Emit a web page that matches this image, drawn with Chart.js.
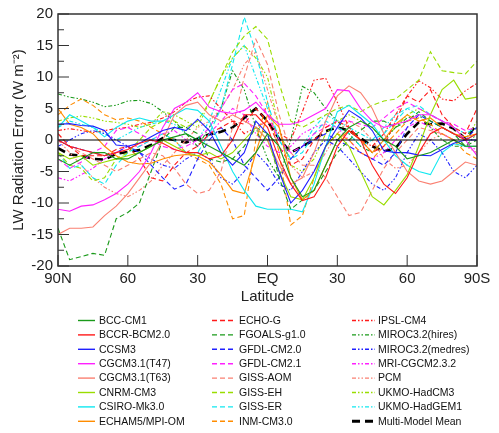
<!DOCTYPE html>
<html>
<head>
<meta charset="utf-8">
<script src="https://cdn.jsdelivr.net/npm/chart.js@4.4.1/dist/chart.umd.min.js"></script>
<style>
  body { margin: 0; background: #fff; }
  canvas { display: block; }
</style>
</head>
<body>
<canvas id="grafico" width="499" height="433"></canvas>
<script>
// latitudes, 90N -> 90S
const lat = [90,85,80,75,70,65,60,55,50,45,40,35,30,25,20,15,10,5,0,-5,-10,-15,-20,-25,-30,-35,-40,-45,-50,-55,-60,-65,-70,-75,-80,-85,-90];

const xTicks = [90,60,30,0,-30,-60,-90];
const xTickLabels = ['90N','60','30','EQ','30','60','90S'];
const yTicks = [-20,-15,-10,-5,0,5,10,15,20];
const yMinorTicks = [-17.5,-12.5,-7.5,-2.5,2.5,7.5,12.5,17.5];

// LW radiation error (W m-2) por modelo
const bccCm1   = [-3,-4,-3,-2,-2,-3,-3,-2,-1,0,0.5,1,0,-1,-2,-3,-4,-2,1,-1,-6,-9,-8,-4,0,2,3,2,0,-1,-3,-2.5,-2,-1,0,-1,-1];
const bccrBcm  = [0,-1,-1.5,-2,-2.5,-2,-1.5,-0.5,0,-0.5,-1.5,-2,-2,-3,-2.5,0,4,4,2,-3,-7,-9.6,-9,-6,-1,1.5,0,-4,-7,-8.5,-6,-2,1,2,1,0,1];
const ccsm3    = [2.5,2.6,2.3,2.2,1.5,-0.8,-1,-0.5,0.5,1.5,2,1.5,3.3,1.5,-2,-4,-2,3,1,-5,-10,-8,-5,-1,2,4.7,3.5,1.5,-1.7,-2,-2,-2.4,-2.5,-1.5,-0.5,0,0];
const cgcmT47  = [-11,-11.3,-10.5,-10.3,-9.5,-8.5,-7,-5,-2,2,5,6,7.5,5.2,4.5,4.2,4.7,6,4,2.5,2.5,3,4,5,8,7.8,5,3,2,2.5,3,4,4,3,2,0,-2.5];
const cgcmT63  = [-15,-14,-14,-13.8,-12,-10.5,-8.5,-6,-3.5,0,4,5.5,6,4,3,4,3,2,0,-4,-7,-6,-2,3,7,8.6,7.5,5,1,-2,-5,-6.5,-7,-6.5,-5,-3.5,-4];
const cnrmCm3  = [-2,-3,-2.5,-4,-3.5,-3,-2.5,-2,-1,0,-1,-2,-2.5,-2,-3,-2,0,2,0,-5,-9,-9.5,-6,-1,1,-1,-5,-9,-10.3,-8,-5.5,-1,4,8,9.5,6.5,6.8];
const csiroMk3 = [2,4,3,2,0.5,2,3,3.5,3,3,4,5,4.7,3,-1,-5,-8,-10.5,-11,-11,-11,-11.4,-7,-1,4.5,5.5,4,2.5,0,-2.5,-4,-5,-5.5,-2,-0.6,-1,-1];
const echam5   = [5,2.5,2,1,-1,-2.5,-3.5,-3.8,-3.7,-3,-2.5,-2.3,-2.5,-3.5,-5.5,-8,-8.5,-2,4,2,-6,-9.5,-8,-4,0,1.5,0,-2,0,2.5,4,3,3.5,2,1,0.5,1];
const echoG    = [1,-1,-2.5,-2.5,-2.5,-1.5,-1,-3,-6,-6.5,-4,-2,-1,1,2,3,2.5,5,3,-1,-4,-3,0,2,3,2,0,-2,-1,3,7,6,8,4,2,1,5];
const fgoals   = [-14,-19,-18.5,-18,-18.3,-12.5,-11.5,-10,-5,0,2,2,1,-3,-3.5,-3,-1,2,1,-6,-11,-9.5,-8,-5,-2,0,1.5,3,3,2,3,4.5,3,2,1,-1,0];
const gfdl20   = [0,-1,-1.5,-2,-2.5,-2,-1,-2,-4,-6,-7.8,-7,-3,0,2,0,-4,-6,-8,-6,-3,-1,0,1,0,-1,-2,-3,-4,-2,2,4,3,2,1,0,2];
const gfdl21   = [-3,-4.5,-3.5,-2,-1,1.5,2,1,0,-1,-1.5,-1,0,2,5,8,9,7,4,0,-2,-1,1,2,3,3,2.5,2,3.5,5,6,5,4,3,2.5,1.5,2];
const gissAom  = [1,-1,-2,-3,-4,-5,-4,-3,-2,-2.5,-4.5,-7,-8.5,-8,-5,2,10,16,12,4,-2,-4,-4,-6,-9,-12,-11.5,-8,-4.5,-2,0,2,1.5,1,0,-1,-1];
const gissEh   = [-2,-4,-4.5,-6.5,-6,-3,-2,0,2,3,3,2,3,6,10,14,16.5,18,16,9,3,2,3,4,5,5.5,4.5,5.5,6.2,6.5,8,9.5,14,11,10.7,10.5,12.5];
const gissEr   = [-2,-4.5,-4,-6,-7,-4,-2,-1,0,1,0,-2,-2,1,5,12,19.5,14,6,0,-3,-2,1,3,2,1,-1,0,1,3,5,5.5,4,3,2,1,2];
const inmCm3   = [4,5.5,6.5,5.5,4,3.2,3.5,3,2,1,0,-2,-3,-4,-7,-12.5,-12,0,6,-2,-13.5,-12,-6,-1,1,0,-2,-3,-1,1,3,3.5,2.5,1,0,-2,-3];
const ipslCm4  = [1.5,1.8,1.5,1.2,1.5,1.8,2,2.5,2.8,3.5,4.5,6,6.8,7,5,3,1,2,3,1,0,4.5,9.5,9.8,6,2,0,-1,1,4,7,9.4,8.3,6.5,6.2,7.8,9];
const mirocHi  = [7.3,6.8,6.5,6,5.3,5.5,6.2,6.3,5.8,4.5,3,1,-1,2,5,11,8,2,-3,-6,0,8.5,7.5,5,3,1,-1,-2,0,2,3.5,4,2,0,-1,-1,1];
const mirocMed = [-1,0,1,1.5,1,0,-1,-2,-3,-4,-4.5,-3,-2,-3,-6,-7,-5,-2,-4,-7,-8,-5,-2,0,-1,-3,-5,-7,-8,-6,-2,1,0,-2,-5,-6,-4];
const mriCgcm  = [-6,-6.5,-5.5,-4.5,-3,-2,-1,-1,0,1,1.5,0,-1,1,3,5,4,1,-1,-2,-1,1,2,2.5,2,0,-2,-3,-2,0,2,3,2,1,0,-1,-1.5];
const pcm      = [0,-2,-4,-6,-7.5,-8.5,-9,-8,-6.5,-4,-2,0,2,3,5,8,12,14,8,2,-4,-6,-5,-2,1,3,2,0,-3,-4.5,-4,-2,0,1,0,-1,-2];
const hadCm3   = [3,3.5,3.8,3.5,3,2.8,2.5,2,2.5,4.5,4,3,2,6,10,13,15,13,10,2,-4,-5,-3,1,3,4,3,2,0,2,4,5,4,3,2,0,3];
const hadGem1  = [2,3,2.5,2,1,0,1,2,2.5,3,2.5,1,0,3,8,13,15,10,5,0,-3,-1,2,4,3,2,1,0,2,4,5,4,3,2,1,0,1];
const mmMean   = [-1.3,-2.3,-2.5,-3.0,-3.1,-2.2,-1.9,-1.6,-0.8,0.3,0.0,-0.4,0.2,0.9,1.3,2.0,3.5,5.0,3.0,0.2,-2.0,-1.0,0.0,1.4,2.0,1.5,0.3,-1.0,-1.8,-1.3,1.0,2.8,2.5,2.6,1.8,0.2,2.5];

const modelNames = ['BCC-CM1','BCCR-BCM2.0','CCSM3','CGCM3.1(T47)','CGCM3.1(T63)','CNRM-CM3','CSIRO-Mk3.0','ECHAM5/MPI-OM',
  'ECHO-G','FGOALS-g1.0','GFDL-CM2.0','GFDL-CM2.1','GISS-AOM','GISS-EH','GISS-ER','INM-CM3.0',
  'IPSL-CM4','MIROC3.2(hires)','MIROC3.2(medres)','MRI-CGCM2.3.2','PCM','UKMO-HadCM3','UKMO-HadGEM1','Multi-Model Mean'];
const modelValues = [bccCm1,bccrBcm,ccsm3,cgcmT47,cgcmT63,cnrmCm3,csiroMk3,echam5,
  echoG,fgoals,gfdl20,gfdl21,gissAom,gissEh,gissEr,inmCm3,
  ipslCm4,mirocHi,mirocMed,mriCgcm,pcm,hadCm3,hadGem1,mmMean];

// estilos
const verde = '#1a9a1a', vermelho = '#ff1a1a', azul = '#2020ff', magenta = '#ff20ff',
      salmao = '#fa8072', limao = '#99dd00', ciano = '#10e8f0', laranja = '#ff8c00';
const cores = [verde, vermelho, azul, magenta, salmao, limao, ciano, laranja,
  vermelho, verde, azul, magenta, salmao, limao, ciano, laranja,
  vermelho, verde, azul, magenta, salmao, limao, ciano, '#000'];
const tracos = [[], [5,3], [4,2,1.5,2,1.5,2]];

const datasets = modelValues.map(function(vals, i) {
  const media = i === 23;
  return {
    label: modelNames[i],
    data: vals.map((v, k) => ({x: lat[k], y: v})),
    borderColor: cores[i],
    borderDash: media ? [8,5] : tracos[Math.floor(i / 8)],
    borderWidth: media ? 2.6 : 1.1,
    pointRadius: 0,
    tension: 0,
    fill: false
  };
});

const fonte = '"Liberation Sans", Arial, Helvetica, sans-serif';

const eixosPlugin = {
  id: 'eixos',
  afterDatasetsDraw(chart) {
    const ctx = chart.ctx;
    const a = chart.chartArea;
    const x = chart.scales.x, y = chart.scales.y;
    ctx.save();
    // linha do zero
    ctx.strokeStyle = '#000';
    ctx.lineWidth = 1.2;
    const y0 = y.getPixelForValue(0);
    ctx.beginPath(); ctx.moveTo(a.left, y0); ctx.lineTo(a.right, y0); ctx.stroke();
    // ticks para dentro
    ctx.strokeStyle = '#333';
    ctx.lineWidth = 1;
    ctx.beginPath();
    yTicks.forEach(v => { const p = y.getPixelForValue(v); ctx.moveTo(a.left, p); ctx.lineTo(a.left + 11, p); });
    yMinorTicks.forEach(v => { const p = y.getPixelForValue(v); ctx.moveTo(a.left, p); ctx.lineTo(a.left + 6, p); });
    xTicks.forEach(v => { const p = x.getPixelForValue(v); ctx.moveTo(p, a.bottom); ctx.lineTo(p, a.bottom - 11); });
    ctx.stroke();
    ctx.lineWidth = 1.5;
    ctx.strokeRect(a.left, a.top, a.right - a.left, a.bottom - a.top);
    ctx.restore();
  }
};

const legendaPlugin = {
  id: 'legenda',
  afterDraw(chart) {
    const ctx = chart.ctx;
    const cols = [[78, 95, 99], [212, 234, 239], [352, 375, 378]];
    chart.data.datasets.forEach(function(ds, i) {
      const c = cols[Math.floor(i / 8)];
      const yy = 320.5 + (i % 8) * 14.4;
      ctx.save();
      ctx.strokeStyle = ds.borderColor;
      ctx.lineWidth = i === 23 ? 3 : 1.4;
      ctx.setLineDash(ds.borderDash);
      ctx.beginPath(); ctx.moveTo(c[0], yy); ctx.lineTo(c[1], yy); ctx.stroke();
      ctx.setLineDash([]);
      ctx.fillStyle = '#111';
      ctx.font = '10.5px ' + fonte;
      ctx.textBaseline = 'middle';
      ctx.fillText(ds.label, c[2], yy + 0.5);
      ctx.restore();
    });
  }
};

new Chart(document.getElementById('grafico'), {
  type: 'line',
  data: { datasets: datasets },
  options: {
    responsive: false,
    animation: false,
    layout: { padding: { top: 13, right: 22, left: 0, bottom: 127 } },
    plugins: { legend: { display: false }, tooltip: { enabled: false } },
    scales: {
      x: {
        type: 'linear',
        min: -90, max: 90,
        reverse: true,
        afterFit: s => { s.height = 40; },
        afterBuildTicks: s => { s.ticks = xTicks.map(v => ({value: v})); },
        grid: { display: false, drawTicks: false },
        border: { display: false },
        ticks: {
          autoSkip: false, maxRotation: 0, padding: 4,
          color: '#222', font: { family: fonte, size: 15 },
          callback: v => xTickLabels[xTicks.indexOf(v)]
        },
        title: { display: true, text: 'Latitude', color: '#222', font: { family: fonte, size: 15 }, padding: { top: 0, bottom: 0 } }
      },
      y: {
        min: -20, max: 20,
        afterFit: s => { s.width = 58; },
        afterBuildTicks: s => { s.ticks = yTicks.map(v => ({value: v})); },
        grid: { display: false, drawTicks: false },
        border: { display: false },
        ticks: { padding: 5, color: '#222', font: { family: fonte, size: 15 } },
        title: { display: true, text: 'LW Radiation Error (W m⁻²)', color: '#222', font: { family: fonte, size: 15 }, padding: { top: 10, bottom: 0 } }
      }
    }
  },
  plugins: [eixosPlugin, legendaPlugin]
});
</script>
</body>
</html>
